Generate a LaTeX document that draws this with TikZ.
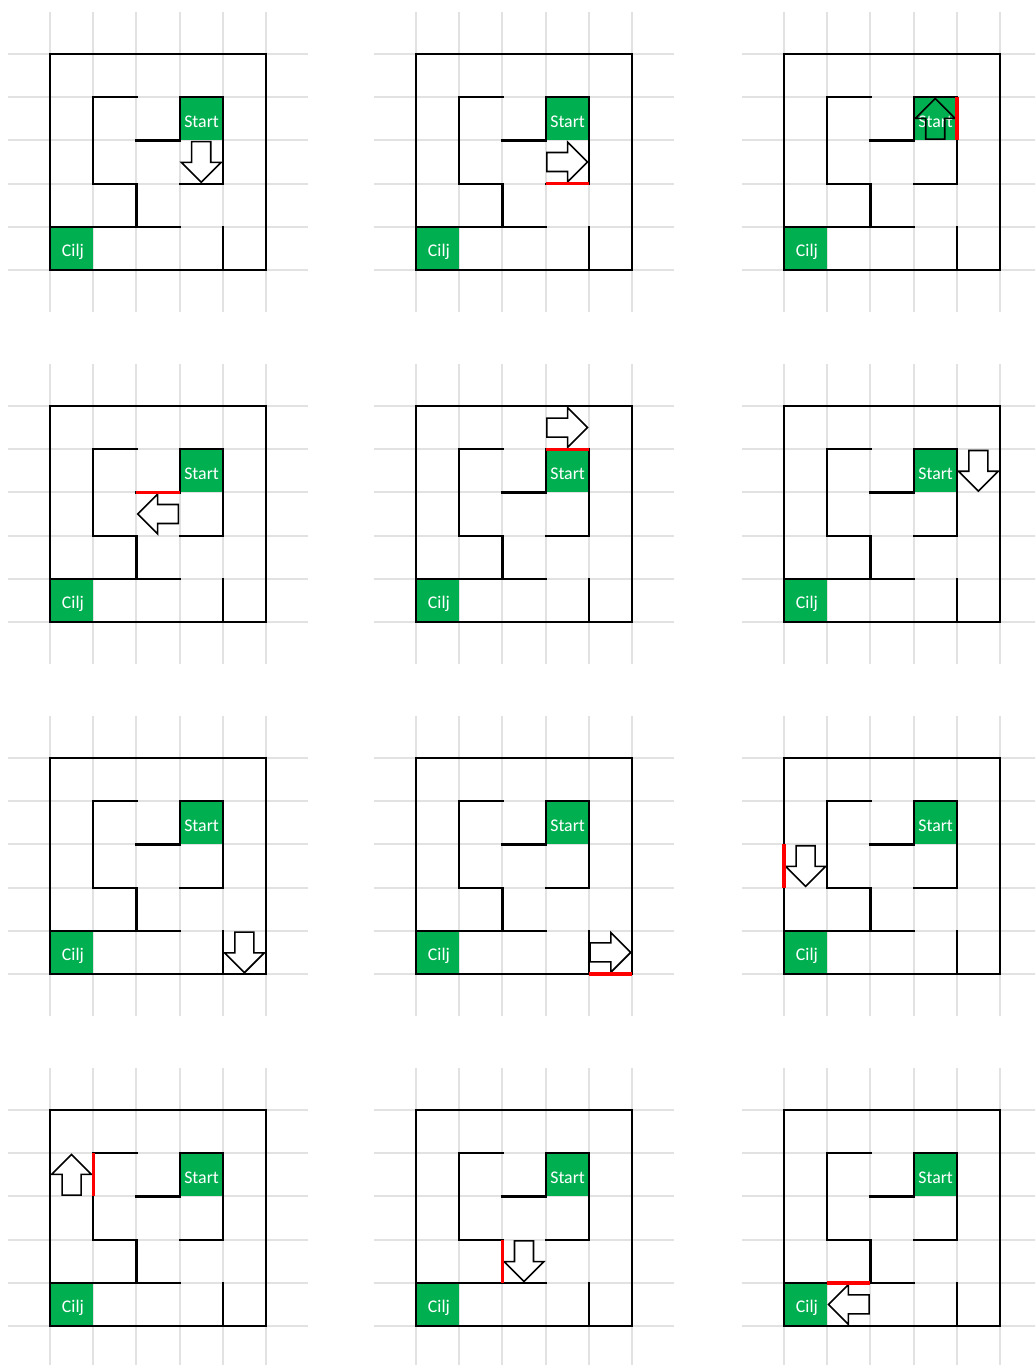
\documentclass[tikz,border=0pt]{standalone}
\usepackage{fontspec}
\setmainfont{Carlito}
\definecolor{mzgreen}{HTML}{00B050}
\definecolor{gridgray}{HTML}{E2E2E2}
\definecolor{hitred}{HTML}{FF0000}
\tikzset{
  gridline/.style={draw=gridgray, line width=1pt},
  wall/.style={draw=black, line width=1.1pt, line cap=rect},
  hit/.style={draw=hitred, line width=1.7pt},
  goalbox/.style={fill=mzgreen},
  celltext/.style={text=white, font=\fontsize{8.9}{10}\selectfont, inner sep=0pt, anchor=base},
  blockarrow/.style={draw=black, fill=white, line width=0.8pt, line join=miter},
  openarrow/.style={draw=black, line width=0.8pt, line join=miter},
}
% arrow centred at (#2,#3), rotated by #4 (0 right, 90 up, 180 left, -90 down), style #1
\newcommand\blockarr[4]{%
  \draw[#1, shift={(#2,#3)}, rotate=#4]
    (-0.47,-0.22) -- (0.01,-0.22) -- (0.01,-0.46) -- (0.47,0) --
    (0.01,0.46) -- (0.01,0.22) -- (-0.47,0.22) -- cycle;}
\newcommand\mazebase[1]{%
  \foreach \k in {0,...,5} {
    \draw[gridline] (-0.97,\k) -- (5.97,\k);
    \draw[gridline] (\k,-0.97) -- (\k,5.97);
  }
  \fill[goalbox] (3,1) rectangle (4,2);
  \fill[goalbox] (0,4) rectangle (1,5);
  \node[celltext] (#1start) at (3.51,1.69) {Start};
  \node[celltext] (#1goal) at (0.53,4.68) {Cilj};
  \draw[wall] (0,0) rectangle (5,5);
  \draw[wall] (2,1) -- (1,1) -- (1,3) -- (2,3) -- (2,4);
  \draw[wall] (0,4) -- (3,4);
  \draw[wall] (2,2) -- (3,2) -- (3,1) -- (4,1) -- (4,3) -- (3,3);
  \draw[wall] (4,4) -- (4,5);
}
\newcommand\mazepanel[4]{%
  \begin{scope}[shift={(#2,#3)}, x=21.6pt, y=-21.6pt]
    \mazebase{#1}
    #4
  \end{scope}}

\begin{document}
\begin{tikzpicture}[x=0.5pt, y=-0.5pt]
\useasboundingbox (0,0) rectangle (1035,1365);
\fill[white] (0,0) rectangle (1035,1365);
\clip (0,0) rectangle (1035,1365);

% row 1
\mazepanel{pa}{50}{54}{%
  \blockarr{blockarrow}{3.5}{2.5}{-90}}
\mazepanel{pb}{416}{54}{%
  \blockarr{blockarrow}{3.5}{2.5}{0}
  \draw[hit] (3,3) -- (4,3);}
\mazepanel{pc}{784}{54}{%
  \blockarr{openarrow}{3.5}{1.5}{90}
  \draw[hit] (4,1) -- (4,2);}

% row 2
\mazepanel{pd}{50}{406}{%
  \blockarr{blockarrow}{2.5}{2.5}{180}
  \draw[hit] (2,2) -- (3,2);}
\mazepanel{pe}{416}{406}{%
  \blockarr{blockarrow}{3.5}{0.5}{0}
  \draw[hit] (3,1) -- (4,1);}
\mazepanel{pf}{784}{406}{%
  \blockarr{blockarrow}{4.5}{1.5}{-90}}

% row 3
\mazepanel{pg}{50}{758}{%
  \blockarr{blockarrow}{4.5}{4.5}{-90}}
\mazepanel{ph}{416}{758}{%
  \blockarr{blockarrow}{4.5}{4.5}{0}
  \draw[hit] (4,5) -- (5,5);}
\mazepanel{pi}{784}{758}{%
  \blockarr{blockarrow}{0.5}{2.5}{-90}
  \draw[hit] (0,2) -- (0,3);}

% row 4
\mazepanel{pj}{50}{1110}{%
  \blockarr{blockarrow}{0.5}{1.5}{90}
  \draw[hit] (1,1) -- (1,2);}
\mazepanel{pk}{416}{1110}{%
  \blockarr{blockarrow}{2.5}{3.5}{-90}
  \draw[hit] (2,3) -- (2,4);}
\mazepanel{pl}{784}{1110}{%
  \blockarr{blockarrow}{1.5}{4.5}{180}
  \draw[hit] (1,4) -- (2,4);}
\end{tikzpicture}
\end{document}
